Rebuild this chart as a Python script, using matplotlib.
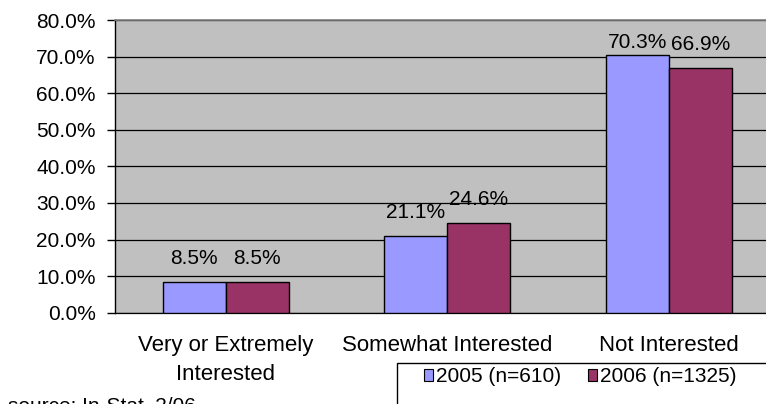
import matplotlib
matplotlib.use("Agg")
import matplotlib.pyplot as plt
from matplotlib.patches import Patch, Rectangle
import numpy as np

categories = ["Very or Extremely\nInterested", "Somewhat Interested", "Not Interested"]
series_names = ["2005 (n=610)", "2006 (n=1325)"]
values_2005 = [8.5, 21.1, 70.3]
values_2006 = [8.5, 24.6, 66.9]
yticks = [0, 10, 20, 30, 40, 50, 60, 70, 80]
source_text = "source: In-Stat, 2/06"

colors = ["#9999FF", "#993366"]
FS = 15
plt.rcParams["font.family"] = ["Liberation Sans", "DejaVu Sans"]

W, H = 766, 404
fig = plt.figure(figsize=(W / 100, H / 100), dpi=100)

def fx(px):
    return px / W

def fy(py):
    return (H - py) / H

left, right, top, bottom = 115, 115 + 3 * 221.5, 20, 312.7
ax = fig.add_axes([fx(left), fy(bottom), fx(right - left), (bottom - top) / H])
ax.set_facecolor("#C0C0C0")

x = np.arange(len(categories))
bw = 0.285
b1 = ax.bar(x - bw / 2, values_2005, bw, color=colors[0], edgecolor="black", linewidth=1.0, zorder=3)
b2 = ax.bar(x + bw / 2, values_2006, bw, color=colors[1], edgecolor="black", linewidth=1.0, zorder=3)

ax.set_xlim(-0.5, len(categories) - 0.5)
ax.set_ylim(0, 80)
ax.set_yticks(yticks)
ax.set_yticklabels([f"{t:.1f}%" for t in yticks], fontsize=FS)
ax.set_xticks(x)
ax.set_xticklabels(categories, fontsize=FS + 1, linespacing=1.5)
ax.tick_params(axis="x", length=0, pad=16)
ax.tick_params(axis="y", length=6, width=1, pad=8, direction="out")
ax.yaxis.grid(True, color="black", linewidth=0.9, zorder=1)
ax.set_axisbelow(True)
ax.spines["right"].set_visible(False)
ax.spines["top"].set_color("#808080")
ax.spines["top"].set_linewidth(1.2)
ax.spines["left"].set_color("black")
ax.spines["left"].set_linewidth(1.0)
ax.spines["bottom"].set_color("black")
ax.spines["bottom"].set_linewidth(0.9)

px_per_unit = (bottom - top) / 80.0
gap = 18 / px_per_unit
ymax_label = (bottom - 48) / px_per_unit
for bars, vals in [(b1, values_2005), (b2, values_2006)]:
    for rect, v in zip(bars, vals):
        cx = rect.get_x() + rect.get_width() / 2
        yl = min(v + gap, ymax_label)
        ax.text(cx, yl, f"{v:.1f}%", ha="center", va="baseline", fontsize=FS, zorder=4)

# legend
fig.patches.append(Rectangle((fx(397), fy(430)), fx(800 - 397), (430 - 363) / H,
                             transform=fig.transFigure, facecolor="white",
                             edgecolor="black", linewidth=1.0, clip_on=False))
handles = [Patch(facecolor=c, edgecolor="black", linewidth=0.8) for c in colors]
fig.legend(handles, series_names, loc="center left", bbox_to_anchor=(fx(424), fy(377)),
           ncol=2, frameon=False, fontsize=FS, handlelength=0.45, handleheight=0.45,
           handletextpad=0.15, columnspacing=1.25, borderpad=0, borderaxespad=0)

fig.text(fx(8), fy(396), source_text, fontsize=FS, ha="left", va="top")

fig.savefig("out.png", dpi=100)
